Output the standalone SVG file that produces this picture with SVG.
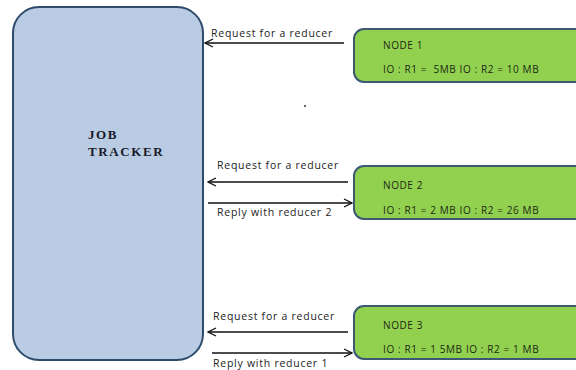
<svg xmlns="http://www.w3.org/2000/svg" width="576" height="370" viewBox="0 0 576 370">
<defs>
<marker id="ah" markerWidth="10" markerHeight="10" refX="9" refY="5" orient="auto" markerUnits="userSpaceOnUse">
<path d="M1,1 L9,5 L1,9" fill="none" stroke="#111" stroke-width="1.3"/>
</marker>
<style>
.node{fill:#92d050;stroke:#3d5872;stroke-width:2}
.jt{fill:#b9cce4;stroke:#2f4b6b;stroke-width:2}
.nt{font-family:"Open Sans","Liberation Sans",sans-serif;font-size:10px;letter-spacing:0.6px;fill:#1a2a10}
.lbl{font-family:"Open Sans","Liberation Sans",sans-serif;font-size:10.5px;letter-spacing:0.75px;fill:#222}
.jtt{font-family:"Liberation Serif",serif;font-size:13px;font-weight:bold;letter-spacing:1.6px;fill:#1a1a2a}
.ar{stroke:#111;stroke-width:1.3;fill:none;marker-end:url(#ah)}
</style>
</defs>
<rect width="576" height="370" fill="#fff"/>
<g id="job-tracker">
<rect class="jt" x="13" y="7" width="190" height="353" rx="26" ry="26"/>
<text class="jtt" x="88" y="139">JOB</text>
<text class="jtt" x="88" y="156">TRACKER</text>
</g>
<g id="node1">
<rect class="node" x="354" y="29" width="240" height="53" rx="10" ry="10"/>
<text class="nt" x="383" y="49">NODE 1</text>
<text class="nt" x="383" y="73">IO : R1 = &#160;5MB IO : R2 = 10 MB</text>
</g>
<g id="node2">
<rect class="node" x="354" y="166" width="240" height="53" rx="10" ry="10"/>
<text class="nt" x="383" y="189">NODE 2</text>
<text class="nt" x="383" y="214">IO : R1 = 2 MB IO : R2 = 26 MB</text>
</g>
<g id="node3">
<rect class="node" x="354" y="306" width="240" height="53" rx="10" ry="10"/>
<text class="nt" x="383" y="329">NODE 3</text>
<text class="nt" x="383" y="353">IO : R1 = 1 5MB IO : R2 = 1 MB</text>
</g>
<g id="connectors">
<line class="ar" x1="344" y1="43" x2="205" y2="43"/>
<text class="lbl" x="211" y="37">Request for a reducer</text>
<line class="ar" x1="348" y1="182" x2="208" y2="182"/>
<text class="lbl" x="217" y="169">Request for a reducer</text>
<line class="ar" x1="208" y1="203" x2="352" y2="203"/>
<text class="lbl" x="217" y="216">Reply with reducer 2</text>
<line class="ar" x1="348" y1="332" x2="208" y2="332"/>
<text class="lbl" x="213" y="320">Request for a reducer</text>
<line class="ar" x1="212" y1="353" x2="352" y2="353"/>
<text class="lbl" x="213" y="367">Reply with reducer 1</text>
</g>
<circle cx="305" cy="106" r="1" fill="#333"/>
</svg>
